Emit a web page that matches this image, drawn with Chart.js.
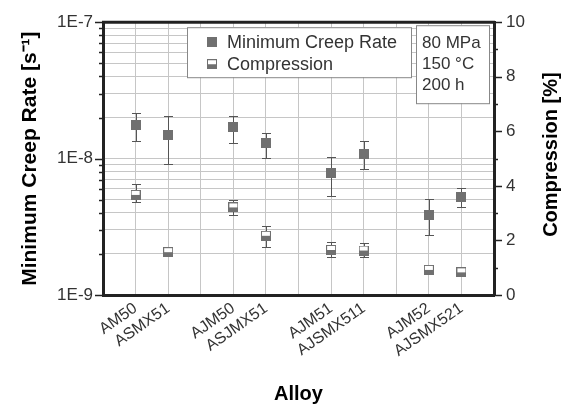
<!DOCTYPE html>
<html>
<head>
<meta charset="utf-8">
<script src="https://cdn.jsdelivr.net/npm/chart.js@4.4.1/dist/chart.umd.min.js"></script>
<style>
  html, body { margin: 0; padding: 0; background: #fff; }
  #wrap { width: 567px; height: 406px; }
</style>
</head>
<body>
<div id="wrap"><canvas id="chart" width="567" height="406"></canvas></div>
<script>
const alloys = ['AM50', 'ASMX51', 'AJM50', 'ASJMX51', 'AJM51', 'AJSMX511', 'AJM52', 'AJSMX521'];
const creepRate = [1.77e-8, 1.48e-8, 1.70e-8, 1.30e-8, 7.9e-9, 1.08e-8, 3.86e-9, 5.27e-9];
const creepLow  = [1.34e-8, 9.2e-9, 1.31e-8, 1.01e-8, 5.36e-9, 8.4e-9, 2.76e-9, 4.41e-9];
const creepHigh = [2.16e-8, 2.04e-8, 2.07e-8, 1.55e-8, 1.03e-8, 1.34e-8, 5.04e-9, 6.07e-9];
const compression = [3.67, 1.57, 3.21, 2.17, 1.65, 1.63, 0.92, 0.83];
const compLow  = [3.40, 1.47, 2.94, 1.77, 1.41, 1.41, 0.80, 0.73];
const compHigh = [4.08, 1.75, 3.49, 2.54, 1.93, 1.90, 1.08, 1.04];
const leftTicks = [1e-9, 1e-8, 1e-7];
const leftTickLabels = ['1E-9', '1E-8', '1E-7'];
const rightMin = 0, rightMax = 10;
const conditions = ['80 MPa', '150 °C', '200 h'];

const FONT = "'Liberation Sans', Arial, sans-serif";
const GREY = '#707070';

// alloys sit in pairs, with an empty slot before, between and after each pair
const axisLabels = [''];
for (let i = 0; i < alloys.length; i += 2) axisLabels.push(alloys[i], alloys[i + 1], '');
function spread(values) {
  const out = [null];
  for (let i = 0; i < values.length; i += 2) out.push(values[i], values[i + 1], null);
  return out;
}

// minor log ticks 2..9 in each decade
const logTicks = [];
for (let d = 0; d < leftTicks.length; d++) {
  logTicks.push({ value: leftTicks[d], major: true });
  if (d < leftTicks.length - 1) {
    for (let m = 2; m <= 9; m++) logTicks.push({ value: leftTicks[d] * m, major: false });
  }
}

function makeMarker(half) {
  const c = document.createElement('canvas');
  c.width = 10; c.height = 10;
  const g = c.getContext('2d');
  g.fillStyle = GREY;
  g.fillRect(0, 0, 10, 10);
  if (half) {
    g.fillStyle = '#ffffff';
    g.fillRect(1, 1, 8, 4);
  }
  return c;
}
const fullMarker = makeMarker(false);
const halfMarker = makeMarker(true);

const ctx = document.getElementById('chart').getContext('2d');

new Chart(ctx, {
  type: 'line',
  data: {
    labels: axisLabels,
    datasets: [{
      label: 'Minimum Creep Rate',
      data: spread(creepRate),
      errLow: spread(creepLow),
      errHigh: spread(creepHigh),
      yAxisID: 'y',
      showLine: false,
      pointStyle: fullMarker,
      marker: fullMarker
    }, {
      label: 'Compression',
      data: spread(compression),
      errLow: spread(compLow),
      errHigh: spread(compHigh),
      yAxisID: 'y1',
      showLine: false,
      pointStyle: halfMarker,
      marker: halfMarker
    }]
  },
  options: {
    responsive: false,
    animation: false,
    layout: { padding: { top: 22, left: 0, right: 0, bottom: 0 } },
    plugins: {
      legend: { display: false },
      tooltip: { enabled: false }
    },
    scales: {
      x: {
        type: 'category',
        offset: false,
        grid: { color: '#c6c6c6', drawTicks: false },
        border: { color: '#222', width: 3 },
        ticks: {
          autoSkip: false, maxRotation: 35, minRotation: 35, padding: 4,
          color: '#333', font: { family: FONT, size: 16 }
        },
        title: {
          display: true, text: 'Alloy', color: '#000',
          font: { family: FONT, size: 20, weight: 'bold' },
          padding: { top: 0, bottom: 0 }
        },
        afterFit(s) { s.height = 111; }
      },
      y: {
        type: 'logarithmic',
        position: 'left',
        min: leftTicks[0],
        max: leftTicks[leftTicks.length - 1],
        afterBuildTicks(s) { s.ticks = logTicks.map(t => ({ value: t.value, major: t.major })); },
        grid: { color: '#c6c6c6', drawTicks: false },
        border: { color: '#222', width: 3 },
        ticks: {
          autoSkip: false, padding: 10, color: '#333',
          font: { family: FONT, size: 17 },
          callback(v) {
            const k = leftTicks.indexOf(v);
            return k >= 0 ? leftTickLabels[k] : '';
          }
        },
        title: {
          display: true, text: 'Minimum Creep Rate [s⁻¹]', color: '#000',
          font: { family: FONT, size: 21, weight: 'bold' },
          padding: { top: 18, bottom: 0 }
        },
        afterFit(s) { s.width = 103; }
      },
      y1: {
        type: 'linear',
        position: 'right',
        min: rightMin,
        max: rightMax,
        grid: { drawOnChartArea: false, drawTicks: false },
        border: { color: '#222', width: 3 },
        ticks: {
          stepSize: 1, autoSkip: false, padding: 12, color: '#333',
          font: { family: FONT, size: 17 },
          callback(v) { return v % 2 === 0 ? v : ''; }
        },
        afterFit(s) { s.width = 73; }
      }
    }
  },
  plugins: [{
    id: 'errorBars',
    beforeDatasetsDraw(chart) {
      const c = chart.ctx;
      c.save();
      c.strokeStyle = '#555';
      c.lineWidth = 1;
      chart.data.datasets.forEach((ds, i) => {
        const meta = chart.getDatasetMeta(i);
        const scale = chart.scales[ds.yAxisID];
        meta.data.forEach((pt, j) => {
          if (ds.data[j] == null) return;
          const x = Math.round(pt.x) + 0.5;
          const yl = Math.round(scale.getPixelForValue(ds.errLow[j])) + 0.5;
          const yh = Math.round(scale.getPixelForValue(ds.errHigh[j])) + 0.5;
          c.beginPath();
          c.moveTo(x, yl); c.lineTo(x, yh);
          c.moveTo(x - 4.5, yl); c.lineTo(x + 4.5, yl);
          c.moveTo(x - 4.5, yh); c.lineTo(x + 4.5, yh);
          c.stroke();
        });
      });
      c.restore();
    },
    afterDraw(chart) {
      const c = chart.ctx;
      const a = chart.chartArea;
      c.save();

      // top frame line
      c.strokeStyle = '#222';
      c.lineWidth = 3;
      c.beginPath();
      c.moveTo(a.left - 1, a.top); c.lineTo(a.right + 1, a.top);
      c.stroke();

      // tick marks, outside
      c.lineWidth = 1.5;
      chart.scales.y.ticks.forEach(t => {
        const y = Math.round(chart.scales.y.getPixelForValue(t.value)) + 0.5;
        const len = t.major ? 8 : 4;
        c.beginPath(); c.moveTo(a.left - len, y); c.lineTo(a.left, y); c.stroke();
      });
      chart.scales.y1.ticks.forEach(t => {
        const y = Math.round(chart.scales.y1.getPixelForValue(t.value)) + 0.5;
        const len = t.value % 2 === 0 ? 8 : 4;
        c.beginPath(); c.moveTo(a.right, y); c.lineTo(a.right + len, y); c.stroke();
      });

      // right axis title, reading upward
      c.fillStyle = '#000';
      c.font = 'bold 20px ' + FONT;
      c.textAlign = 'center';
      c.textBaseline = 'middle';
      c.translate(551, (a.top + a.bottom) / 2 - 4);
      c.rotate(-Math.PI / 2);
      c.fillText('Compression [%]', 0, 0);
      c.setTransform(1, 0, 0, 1, 0, 0);

      // legend box
      const lx = a.left + 84, ly = a.top + 5;
      c.fillStyle = '#fff';
      c.fillRect(lx, ly, 224, 50);
      c.strokeStyle = '#888';
      c.lineWidth = 1;
      c.strokeRect(lx + 0.5, ly + 0.5, 224, 50);
      c.font = '18px ' + FONT;
      c.textAlign = 'left';
      c.fillStyle = '#333';
      chart.data.datasets.forEach((ds, i) => {
        const cy = ly + 15 + i * 22;
        c.drawImage(ds.marker, lx + 20, cy - 5);
        c.fillText(ds.label, lx + 40, cy + 1);
      });

      // test conditions box
      const bx = a.right - 78, by = a.top + 3;
      c.fillStyle = '#fff';
      c.fillRect(bx, by, 73, 78);
      c.strokeStyle = '#888';
      c.strokeRect(bx + 0.5, by + 0.5, 73, 78);
      c.font = '17px ' + FONT;
      c.fillStyle = '#333';
      conditions.forEach((t, i) => c.fillText(t, bx + 6, by + 18 + i * 21));

      c.restore();
    }
  }]
});
</script>
</body>
</html>
